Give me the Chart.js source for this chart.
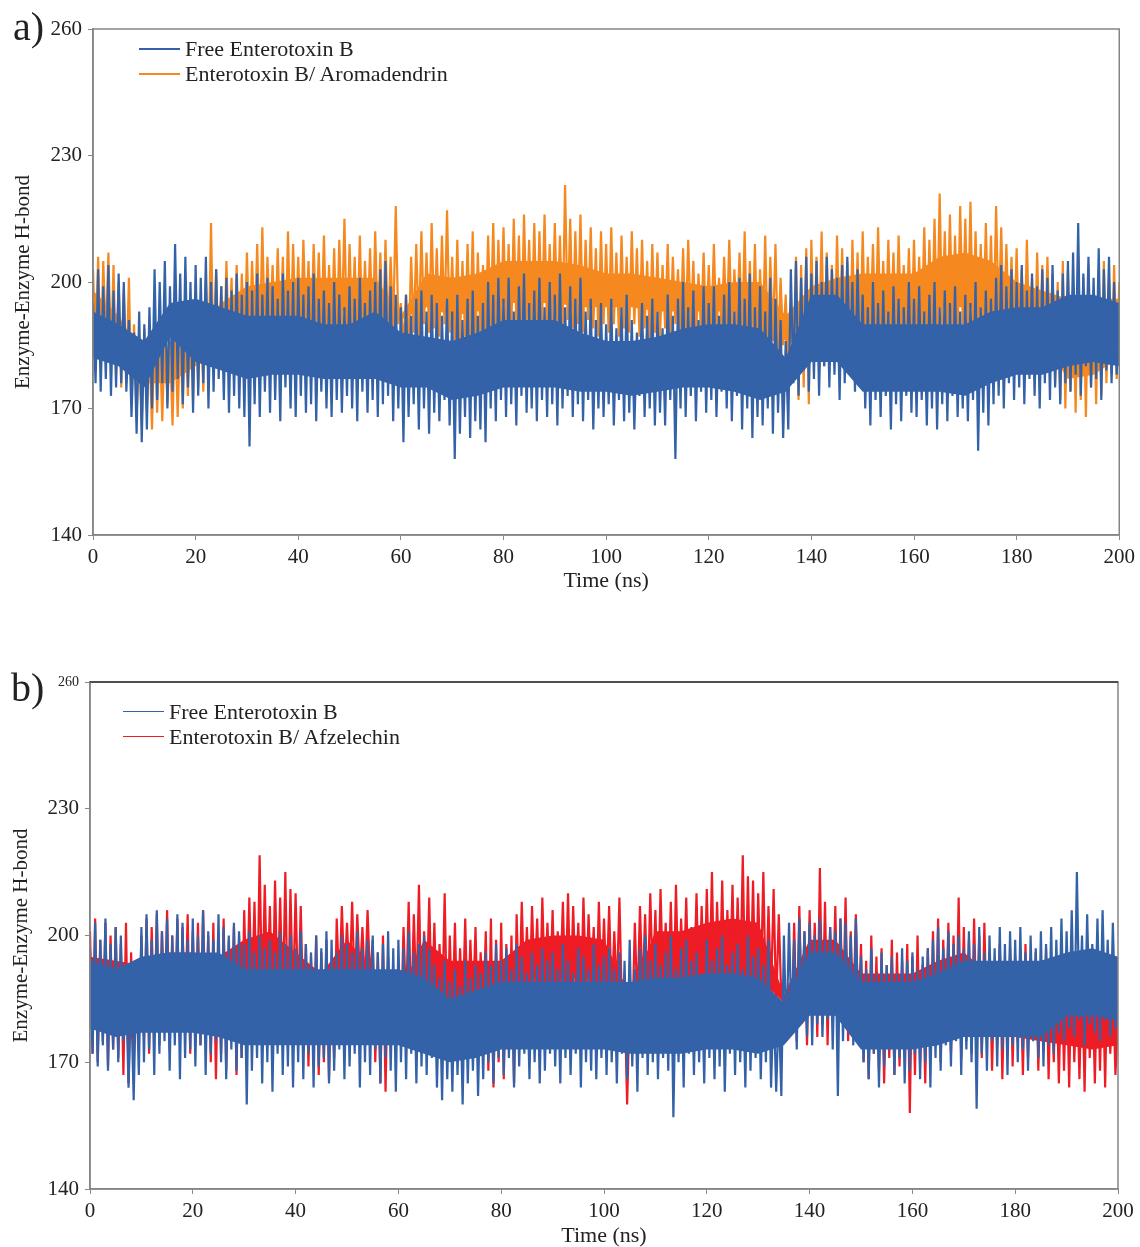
<!DOCTYPE html>
<html>
<head>
<meta charset="utf-8">
<title>Enzyme-Enzyme H-bond</title>
<script src="https://cdn.jsdelivr.net/npm/chart.js@4.4.0/dist/chart.umd.min.js"></script>
<style>
  body { margin: 0; background: #fff; }
  #page { position: relative; width: 1140px; height: 1247px; overflow: hidden; font-family: 'Liberation Serif', 'Times New Roman', serif; color: #222; }
  .panel { position: absolute; left: 0; }
  .tag { position: absolute; font-size: 40px; line-height: 1; }
  .legend { position: absolute; font-size: 22px; line-height: 25px; }
  .legend div { display: flex; align-items: center; white-space: nowrap; }
  .legend span.swatch { display: inline-block; width: 41px; height: 2px; margin-right: 5px; }
</style>
</head>
<body>
<div id="page">
  <div class="panel" style="top:0"><canvas id="chartA" width="1140" height="600"></canvas></div>
  <div class="panel" style="top:600px"><canvas id="chartB" width="1140" height="660"></canvas></div>
  <div class="tag" style="left:13px; top:7px">a)</div>
  <div class="tag" style="left:11px; top:668px">b)</div>
  <div class="legend" id="legendA" style="left:139px; top:36px"></div>
  <div class="legend" id="legendB" style="left:123px; top:699px"></div>
</div>
<script>
// H-bond counts, one value every 0.5 ns from 0 to 200 ns
const timeStep = 0.5;
// dense middle of each trace, read every 5 ns
const coreStep = 5;
const xTicks = [0, 20, 40, 60, 80, 100, 120, 140, 160, 180, 200];
const yTicks = [140, 170, 200, 230, 260];

const colorFree = '#3462a8';
const colorAroma = '#f5891f';
const colorAfze = '#ee1c25';

// panel a
const freeA = [
  195,176,203,174,199,177,204,173,198,175, 202,176,200,174,191,168,188,164,193,162,
  190,165,194,170,203,172,200,176,205,170, 199,174,209,177,202,171,206,175,200,169,
  204,173,201,176,206,170,200,174,203,177, 199,172,201,169,198,173,202,170,197,168,
  200,161,198,171,202,168,197,174,201,169, 199,172,196,167,202,175,198,170,200,168,
  201,173,197,169,199,171,202,167,196,174, 198,170,195,168,200,172,197,169,194,173,
  199,170,196,167,201,174,195,169,198,172, 200,168,203,171,205,173,199,167,197,170,
  194,162,197,168,192,171,196,165,198,170, 193,164,197,169,195,167,192,172,196,166,
  193,158,197,164,191,168,196,163,198,167, 192,165,195,162,200,170,197,167,201,172,
  196,168,201,171,193,166,199,173,202,169, 195,170,198,167,201,172,194,168,200,171,
  197,166,202,170,194,173,199,168,196,171, 201,167,193,172,196,165,191,170,195,168,
  190,171,196,166,189,172,194,167,197,169, 191,165,188,173,195,168,192,170,196,166,
  193,169,189,166,197,172,192,158,196,170, 200,168,194,173,198,167,191,174,199,169,
  195,172,199,168,192,174,197,170,200,167, 193,173,201,165,196,170,202,163,194,168,
  199,166,193,170,201,164,196,169,191,163, 186,165,203,176,205,173,201,179,206,174,
  202,177,205,173,200,180,206,175,203,178, 201,172,204,176,206,179,200,174,203,177,
  197,170,194,166,200,172,195,168,198,173, 193,165,199,171,196,167,194,173,200,169,
  196,168,199,172,193,166,197,170,200,165, 194,171,198,167,195,173,199,168,193,170,
  197,167,195,172,200,160,194,169,198,166, 196,171,201,173,204,170,199,176,203,172,
  200,175,204,171,198,177,202,173,199,170, 203,176,201,172,204,175,198,171,202,176,
  205,174,207,178,214,173,202,180,206,175, 201,177,208,172,203,179,206,176,200,178,
  192
];
const freeACoreTop = [
  193,190,186,195,196,194,192,192,192,190, 190,193,188,187,186,188,191,191,191,188,
  186,186,187,189,190,190,189,182,197,197, 190,190,190,190,190,193,194,194,197,197, 195
];
const freeACoreBottom = [
  182,180,175,187,181,179,177,178,178,177, 177,177,175,175,172,173,175,175,175,174,
  174,173,174,175,175,174,172,174,181,181, 174,174,174,174,173,176,178,178,180,181, 180
];

const aromadendrin = [
  203,183,206,180,205,186,207,181,204,178, 200,175,198,176,201,172,190,168,187,166,
  189,170,185,165,191,169,188,167,190,171, 186,166,192,168,189,170,194,173,196,172,
  195,175,193,174,200,180,214,179,203,181, 199,178,205,182,201,180,204,179,202,183,
  207,185,205,187,209,184,213,186,206,188, 204,185,208,187,206,184,212,186,209,188,
  206,186,210,188,205,185,209,189,207,186, 211,187,204,188,208,185,210,189,215,186,
  209,188,206,185,211,187,205,189,208,186, 212,188,207,185,210,187,206,189,218,190,
  195,185,197,184,206,188,209,187,212,190, 207,188,214,189,208,187,211,190,217,188,
  206,186,210,185,205,187,209,186,212,185, 207,187,204,186,211,189,214,188,210,190,
  213,189,209,187,215,190,211,188,216,191, 210,189,214,187,212,190,216,188,209,191,
  214,190,211,188,223,191,215,189,212,190, 216,188,210,191,213,189,208,187,212,190,
  209,188,213,190,207,187,211,189,206,188, 212,190,208,187,210,189,205,186,209,188,
  207,187,204,189,209,186,206,190,203,188, 208,187,210,189,205,186,202,188,207,187,
  204,188,209,187,201,189,206,188,210,187, 203,189,207,186,212,184,205,187,209,183,
  203,185,211,184,206,186,209,183,201,185, 197,178,195,180,206,172,204,175,208,171,
  210,182,206,185,212,180,207,184,204,181, 211,186,208,183,205,180,210,185,207,182,
  212,186,206,188,209,187,213,186,205,188, 210,187,207,186,211,188,204,187,208,186,
  210,187,206,188,213,186,210,188,215,187, 221,190,212,188,216,189,211,187,218,190,
  215,188,219,189,212,186,209,187,214,189, 211,188,218,190,213,187,209,189,206,186,
  208,184,203,182,210,185,201,181,207,183, 204,180,206,184,202,176,200,172,205,170,
  203,174,199,169,206,172,201,168,204,175, 198,171,203,173,205,176,201,178,204,177,
  200
];
const aromaCoreTop = [
  198,192,182,183,188,195,199,200,201,201, 201,201,192,202,201,202,205,205,205,204,
  202,202,201,200,199,200,200,192,199,201, 202,202,202,206,207,205,200,198,196,196, 196
];
const aromaCoreBottom = [
  190,182,176,176,180,186,191,192,193,193, 193,193,191,194,192,193,195,195,195,194,
  194,194,193,193,193,193,191,186,184,188, 192,192,192,194,194,194,189,186,177,178, 182
];

// panel b
const freeB = [
  197,172,203,169,199,174,204,168,198,173, 202,170,200,175,189,164,186,161,191,167,
  202,170,205,173,199,167,206,172,201,175, 204,168,200,174,205,166,203,171,199,173,
  204,169,200,174,206,167,201,172,199,175, 205,170,202,166,200,173,203,168,201,171,
  198,160,201,168,196,171,200,165,197,170, 199,163,196,172,201,167,198,169,200,164,
  197,170,201,166,198,172,196,164,200,169, 197,171,201,165,199,168,196,173,200,166,
  198,169,196,172,201,164,197,170,199,167, 200,173,196,165,198,171,201,168,197,163,
  199,170,197,166,201,172,196,165,198,169, 200,167,197,171,193,164,190,161,194,166,
  189,163,192,167,188,160,194,165,190,168, 193,162,191,166,196,170,193,165,198,171,
  194,167,197,171,192,164,198,169,195,172, 191,166,196,170,193,165,197,168,194,172,
  196,169,192,165,198,171,194,167,191,172, 197,164,195,170,192,168,198,166,193,171,
  195,167,197,170,192,165,196,172,194,166, 199,169,192,163,197,171,200,167,194,170,
  198,166,193,171,196,168,200,157,192,170, 197,164,199,172,194,167,196,170,191,165,
  199,171,194,166,197,169,200,163,193,172, 196,167,198,170,192,164,200,168,195,171,
  197,166,193,170,199,164,185,163,183,162, 200,175,203,178,199,173,204,180,201,176,
  203,174,200,179,204,176,199,180,202,173, 201,162,204,175,203,178,200,174,204,179,
  195,170,192,166,197,172,191,164,196,169, 193,173,195,167,191,171,197,165,194,168,
  196,172,192,166,195,170,197,164,199,171, 202,168,197,174,201,169,198,175,200,167,
  197,173,201,170,198,159,202,172,196,168, 200,175,197,169,202,173,198,167,201,174,
  199,170,202,173,196,168,200,175,197,171, 201,169,198,174,202,172,199,177,204,175,
  201,178,206,176,215,180,200,174,205,179, 198,177,204,175,206,180,199,176,203,178,
  190
];
const freeBCoreTop = [
  194,192,195,196,196,196,192,192,192,192, 192,192,192,190,185,187,189,189,189,189,
  189,189,190,190,191,191,190,184,196,196, 189,189,189,191,194,194,194,194,196,197, 195
];
const freeBCoreBottom = [
  178,176,177,177,177,176,174,174,174,174, 174,174,174,172,170,171,173,173,173,173,
  173,172,172,172,173,173,172,174,181,181, 173,173,173,174,176,176,176,176,181,181, 180
];

const afzelechin = [
  201,172,204,170,199,175,203,169,200,173, 202,171,198,167,203,165,196,170,186,174,
  200,176,204,172,202,178,205,174,201,180, 206,173,200,177,204,175,202,179,205,172,
  201,176,203,174,206,178,200,170,203,166, 198,172,204,168,199,175,202,167,200,171,
  206,181,209,184,208,179,219,183,212,186, 207,180,213,185,209,182,215,179,211,184,
  210,183,207,181,198,169,195,172,200,167, 196,170,199,166,194,171,204,187,207,189,
  203,188,208,186,205,190,202,187,206,189, 199,170,196,165,200,163,195,174,183,176,
  184,178,202,183,208,180,205,185,212,179, 201,184,209,182,203,178,198,180,210,177,
  200,179,203,177,197,181,204,178,199,182, 202,176,196,180,201,168,204,164,199,170,
  203,166,198,173,200,165,205,183,208,186, 202,184,207,188,204,182,209,187,203,185,
  206,183,201,188,208,185,210,184,207,187, 203,182,209,186,205,188,202,183,208,186,
  204,187,207,184,201,186,209,182,186,160, 184,178,203,183,207,186,205,184,210,188,
  206,183,211,187,203,185,208,182,212,186, 204,188,209,184,202,187,210,183,207,185,
  211,186,215,184,208,187,213,183,206,188, 212,185,209,187,219,184,214,186,213,183,
  210,187,215,184,207,186,211,183,205,185, 186,176,188,178,203,175,207,180,201,174,
  206,182,203,176,216,179,208,174,202,183, 207,177,204,181,209,175,201,180,205,178,
  198,170,194,166,200,172,195,168,197,165, 193,171,199,167,196,169,194,173,198,158,
  195,167,200,170,193,165,197,172,201,174, 204,170,199,177,203,172,200,176,209,171,
  202,175,199,172,204,178,200,171,203,176, 196,168,193,174,198,166,194,172,197,169,
  195,175,192,167,198,171,193,176,196,168, 194,173,197,166,192,170,191,165,195,168,
  192,164,196,170,190,166,194,163,197,171, 191,165,195,168,193,164,196,172,190,167,
  180
];
const afzeCoreTop = [
  195,194,193,196,196,195,199,201,196,191, 199,192,186,199,194,194,194,199,200,200,
  199,186,201,201,203,204,203,186,199,199, 191,191,191,194,196,191,190,189,188,188, 186
];
const afzeCoreBottom = [
  180,178,182,182,181,177,186,188,182,176, 192,178,184,186,184,180,176,190,190,190,
  190,182,190,190,190,190,190,184,184,184, 176,174,174,176,178,176,176,175,174,173, 174
];

const serif = "'Liberation Serif', 'Times New Roman', serif";

function toPoints(values, step) {
  return values.map((v, i) => ({ x: i * step, y: v }));
}

// grey box round the plot area
const frame = {
  id: 'frame',
  afterDraw(chart, args, opts) {
    const { ctx, chartArea: a } = chart;
    ctx.save();
    ctx.strokeStyle = opts.color;
    ctx.lineWidth = 1.5;
    ctx.strokeRect(a.left, a.top, a.right - a.left, a.bottom - a.top);
    if (opts.topColor) {
      ctx.strokeStyle = opts.topColor;
      ctx.beginPath();
      ctx.moveTo(a.left, a.top);
      ctx.lineTo(a.right, a.top);
      ctx.stroke();
    }
    ctx.restore();
  }
};

function makeChart(id, series, box) {
  const datasets = [];
  series.forEach((s, k) => {
    // raw trace, later series drawn underneath
    datasets.push({
      label: s.label,
      data: toPoints(s.values, timeStep),
      borderColor: s.color,
      borderWidth: 2.2,
      borderJoinStyle: 'bevel',
      pointRadius: 0,
      tension: 0,
      fill: false,
      order: 2 * k
    });
    // solid middle of the trace
    const bottomIndex = datasets.length + 1;
    datasets.push({
      data: toPoints(s.coreTop, coreStep),
      borderWidth: 0,
      pointRadius: 0,
      backgroundColor: s.color,
      fill: bottomIndex,
      order: 2 * k + 1
    });
    datasets.push({
      data: toPoints(s.coreBottom, coreStep),
      borderWidth: 0,
      pointRadius: 0,
      fill: false,
      order: 2 * k + 1
    });
  });

  return new Chart(document.getElementById(id), {
    type: 'line',
    data: { datasets },
    plugins: [frame],
    options: {
      responsive: false,
      animation: false,
      layout: { padding: { top: box.top, right: box.right, left: 0, bottom: 0 } },
      plugins: {
        legend: { display: false },
        tooltip: { enabled: false },
        filler: { propagate: false },
        frame: { color: '#858585', topColor: box.topColor }
      },
      scales: {
        x: {
          type: 'linear',
          min: 0,
          max: 200,
          afterFit: s => { s.height = box.xHeight; },
          afterBuildTicks: s => { s.ticks = xTicks.map(v => ({ value: v })); },
          ticks: { font: { family: serif, size: 21 }, color: '#222', padding: 5, maxRotation: 0 },
          grid: { drawOnChartArea: false, color: '#888', tickLength: 5 },
          border: { color: '#858585', width: 1.5 },
          title: {
            display: true, text: 'Time (ns)', color: '#222',
            font: { family: serif, size: 22, lineHeight: 1.2 },
            padding: { top: 0, bottom: box.xTitlePad }
          }
        },
        y: {
          min: 140,
          max: 260,
          afterFit: s => { s.width = box.left; },
          afterBuildTicks: s => { s.ticks = yTicks.map(v => ({ value: v })); },
          ticks: {
            font: c => ({ family: serif, size: (box.smallTop && c.tick && c.tick.value === 260) ? 14 : 21 }),
            color: '#222', padding: 6
          },
          grid: { drawOnChartArea: false, color: '#888', tickLength: 5 },
          border: { color: '#858585', width: 1.5 },
          title: {
            display: true, text: 'Enzyme-Enzyme H-bond', color: '#222',
            font: { family: serif, size: 21, lineHeight: 1.2 },
            padding: { top: box.yTitlePad, bottom: 0 }
          }
        }
      }
    }
  });
}

function makeLegend(id, series, thickness) {
  const el = document.getElementById(id);
  series.forEach(s => {
    const row = document.createElement('div');
    row.innerHTML = '<span class="swatch" style="background:' + s.color + ';height:' + thickness + 'px"></span>' + s.label;
    el.appendChild(row);
  });
}

const seriesA = [
  { label: 'Free Enterotoxin B', values: freeA, coreTop: freeACoreTop, coreBottom: freeACoreBottom, color: colorFree },
  { label: 'Enterotoxin B/ Aromadendrin', values: aromadendrin, coreTop: aromaCoreTop, coreBottom: aromaCoreBottom, color: colorAroma }
];
const seriesB = [
  { label: 'Free Enterotoxin B', values: freeB, coreTop: freeBCoreTop, coreBottom: freeBCoreBottom, color: colorFree },
  { label: 'Enterotoxin B/ Afzelechin', values: afzelechin, coreTop: afzeCoreTop, coreBottom: afzeCoreBottom, color: colorAfze }
];

makeChart('chartA', seriesA, { top: 29, right: 19, left: 93, xHeight: 65, xTitlePad: 6, yTitlePad: 11 });
makeChart('chartB', seriesB, { top: 82, right: 22, left: 90, xHeight: 71, xTitlePad: 11, yTitlePad: 9, topColor: '#333', smallTop: true });

makeLegend('legendA', seriesA, 2);
makeLegend('legendB', seriesB, 1.5);
</script>
</body>
</html>
